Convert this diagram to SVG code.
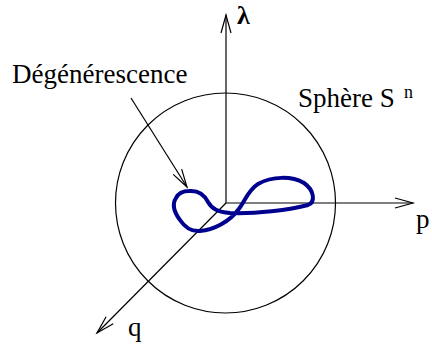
<svg xmlns="http://www.w3.org/2000/svg" width="432" height="347" viewBox="0 0 432 347">
<defs>
<style>
.ax{stroke:#000;stroke-width:1.2;fill:none}
.lbl{font-family:"Liberation Serif","Times New Roman",serif;fill:#000}
</style>
<marker id="vh" markerUnits="userSpaceOnUse" markerWidth="24" markerHeight="14" viewBox="-20 -7 22 14" refX="0" refY="0" orient="auto">
<path d="M -18,-5 L 0,0 L -18,5" fill="none" stroke="#000" stroke-width="1.2"/>
</marker>
</defs>
<rect width="432" height="347" fill="#fff"/>
<g id="sphere">
<circle cx="225.5" cy="203" r="110" class="ax"/>
</g>
<g id="connectors">
<line x1="226" y1="203" x2="226" y2="15" class="ax" marker-end="url(#vh)"/>
<line x1="226" y1="203" x2="413" y2="203" class="ax" marker-end="url(#vh)"/>
<line x1="226" y1="203" x2="97" y2="333" class="ax" marker-end="url(#vh)"/>
<line x1="131" y1="98" x2="187" y2="187" class="ax" marker-end="url(#vh)"/>
</g>
<g id="curve">
<path d="M 189,191 C 200,190 205,196 208,202 C 212,209 218,212 230,213 C 255,214 290,210 308,205 C 316,202 314,190 304,183 C 292,176 272,176 258,184 C 248,190 244,203 238,210 C 230,221 214,230 200,231 C 190,232 184,226 180,220 C 174,212 172,204 176,198 C 179,192 184,191 189,191 Z" fill="none" stroke="#00008f" stroke-width="4" stroke-linejoin="round"/>
</g>
<g id="labels">
<text class="lbl" x="237" y="24" font-size="26" font-weight="bold">λ</text>
<text class="lbl" x="416" y="228" font-size="27">p</text>
<text class="lbl" x="128" y="336" font-size="27">q</text>
<text class="lbl" x="12" y="83" font-size="27">Dégénérescence</text>
<text class="lbl" x="298" y="107" font-size="27">Sphère S</text>
<text class="lbl" x="404" y="98" font-size="18">n</text>
</g>
</svg>
